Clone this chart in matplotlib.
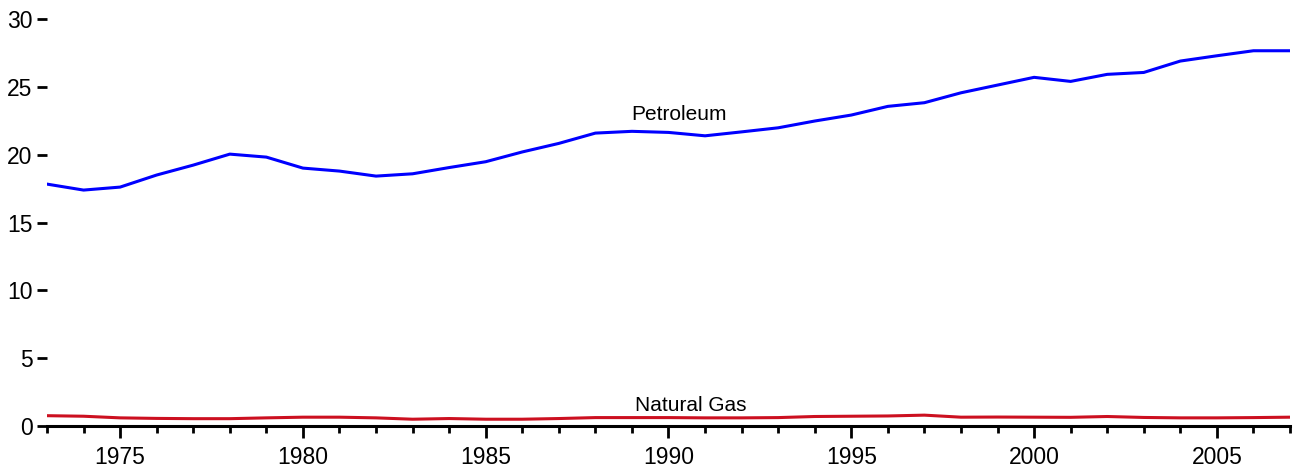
import matplotlib
matplotlib.use("Agg")
import matplotlib.pyplot as plt
from matplotlib.ticker import MultipleLocator

years = list(range(1973, 2008))
petroleum = [17.83, 17.39, 17.61, 18.5, 19.23, 20.04, 19.82, 19.01, 18.79, 18.42,
             18.59, 19.05, 19.48, 20.2, 20.83, 21.59, 21.72, 21.64, 21.39, 21.68,
             21.98, 22.48, 22.92, 23.56, 23.83, 24.56, 25.13, 25.7, 25.4, 25.92,
             26.06, 26.9, 27.29, 27.66, 27.66]
natural_gas = [0.76, 0.72, 0.6, 0.56, 0.54, 0.54, 0.6, 0.65, 0.65, 0.6,
               0.5, 0.55, 0.5, 0.5, 0.55, 0.62, 0.62, 0.62, 0.6, 0.6,
               0.62, 0.7, 0.72, 0.74, 0.8, 0.65, 0.66, 0.65, 0.64, 0.7,
               0.63, 0.6, 0.6, 0.62, 0.65]

labels = ["Petroleum", "Natural Gas"]
label_pos = [(1990.3, 22.95), (1990.6, 1.5)]

plt.rcParams['font.family'] = ['Liberation Sans', 'DejaVu Sans']

fig = plt.figure(figsize=(12.97, 4.67), dpi=100)
ax = fig.add_axes([47/1297, 41/467, (1290-47)/1297, (426-19)/467])

ax.plot(years, petroleum, color="#0000ff", lw=2.2, solid_joinstyle="round")
ax.plot(years, natural_gas, color="#cc1020", lw=2.2, solid_joinstyle="round")

for txt, (x, y) in zip(labels, label_pos):
    ax.text(x, y, txt, ha="center", va="center", fontsize=15, color="black")

ax.set_xlim(1973, 2007)
ax.set_ylim(0, 30)
ax.xaxis.set_major_locator(MultipleLocator(5))
ax.xaxis.set_minor_locator(MultipleLocator(1))
ax.yaxis.set_major_locator(MultipleLocator(5))

for s in ["top", "right", "left"]:
    ax.spines[s].set_visible(False)
ax.spines["bottom"].set_linewidth(2.2)

ax.tick_params(axis="y", which="major", length=7.5, width=2, labelsize=16.5, pad=3)
ax.tick_params(axis="x", which="major", length=8.5, width=2, labelsize=16.5, pad=6)
ax.tick_params(axis="x", which="minor", length=5, width=2)

fig.savefig("out.png", dpi=100)
